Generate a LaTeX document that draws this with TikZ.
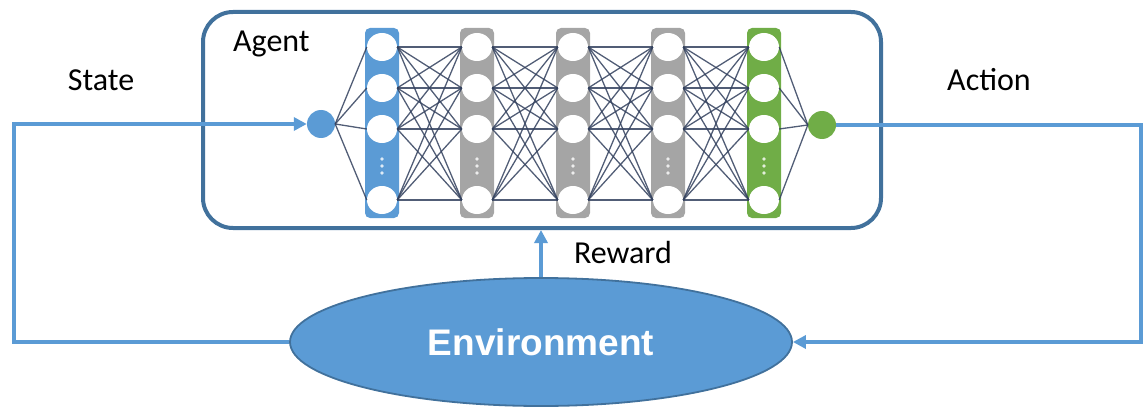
\documentclass[tikz,border=0pt]{standalone}
\usepackage{fontspec}
\setmainfont{Carlito}
\newfontfamily\envfont{Liberation Sans}
\usetikzlibrary{arrows.meta,shapes.geometric}

\definecolor{flowblue}{HTML}{5B9BD5}
\definecolor{frameblue}{HTML}{41719C}
\definecolor{layerblue}{HTML}{5B9BD5}
\definecolor{layergray}{HTML}{A5A5A5}
\definecolor{layergreen}{HTML}{70AD47}
\definecolor{wire}{HTML}{33415E}

\tikzset{
  flow/.style={draw=flowblue, line width=4pt, -{Triangle[length=13pt,width=13pt]}},
  agentbox/.style={draw=frameblue, line width=4pt, rounded corners=30pt,
    minimum width=678pt, minimum height=216pt, inner sep=0pt},
  envnode/.style={ellipse, draw=frameblue, line width=1.8pt, fill=flowblue,
    minimum width=502pt, minimum height=128pt, inner sep=0pt,
    font=\envfont\bfseries\fontsize{37}{40}\selectfont, text=white},
  column/.style={rounded corners=5pt, minimum width=34pt, minimum height=190pt, inner sep=0pt},
  neuron/.style={ellipse, fill=white, minimum width=30pt, minimum height=28pt, inner sep=0pt},
  endpoint/.style={circle, minimum size=28pt, inner sep=0pt},
  wirestyle/.style={draw=wire, line width=1.3pt, opacity=0.85},
  label/.style={font=\fontsize{32}{35}\selectfont, inner sep=0pt},
  vdot/.style={circle, fill=white, opacity=0.8, minimum size=3.8pt, inner sep=0pt},
}

\begin{document}
\begin{tikzpicture}[x=1pt, y=-1pt]
\useasboundingbox (0,0) rectangle (1145,409);

% agent frame
\node[agentbox] (agent) at (542,120) {};
\node[label, anchor=base west] (agentlbl) at (233,52) {Agent};

% layer columns
\foreach \i/\x/\c in {1/382/layerblue, 2/477/layergray, 3/573/layergray, 4/668/layergray, 5/764/layergreen}{
  \node[column, fill=\c] (col-\i) at (\x,123) {};
  \foreach \j/\y in {1/47, 2/88, 3/129, 4/200}{
    \node[neuron] (n-\i-\j) at (\x,\y) {};
  }
  \foreach \k/\y in {1/159, 2/166, 3/173}{
    \node[vdot] (d-\i-\k) at (\x,\y) {};
  }
}

% input and output units
\node[endpoint, fill=flowblue] (in) at (321,124) {};
\node[endpoint, fill=layergreen] (out) at (822,125) {};

% fully connected wiring
\foreach \j in {1,...,4}{
  \draw[wirestyle] (in.east) -- (n-1-\j.west);
  \draw[wirestyle] (n-5-\j.east) -- (out.west);
}
\foreach \i [evaluate=\i as \nx using int(\i+1)] in {1,...,4}{
  \foreach \j in {1,...,4}{
    \foreach \k in {1,...,4}{
      \draw[wirestyle] (n-\i-\j.east) -- (n-\nx-\k.west);
    }
  }
}

% environment
\node[envnode] (env) at (541,342) {Environment};

% feedback loop
\coordinate (lcorner) at (14,230);
\coordinate (rcorner) at (1141,230);
\draw[flow] (env.west) -| (lcorner) |- (in.west);
\draw[flow] (out.east) -| (rcorner) |- (env.east);
\draw[flow] (env.north) -- (env.north |- agent.south);

% labels
\node[label, anchor=base] (state) at (101,91) {State};
\node[label, anchor=base] (action) at (989,91) {Action};
\node[label, anchor=base] (reward) at (623,263) {Reward};
\end{tikzpicture}
\end{document}
